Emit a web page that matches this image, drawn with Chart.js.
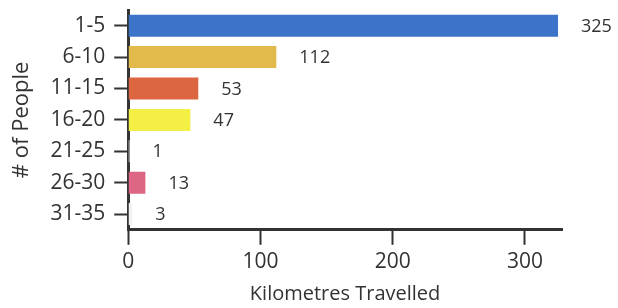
<!DOCTYPE html>
<html>
<head>
<meta charset="utf-8">
<script src="https://cdn.jsdelivr.net/npm/chart.js@4/dist/chart.umd.min.js"></script>
<style>
  html, body { margin: 0; padding: 0; background: #fff; }
  #wrap { width: 618px; height: 308px; }
</style>
</head>
<body>
<div id="wrap"><canvas id="myChart"></canvas></div>
<script>
const groups = ['1-5', '6-10', '11-15', '16-20', '21-25', '26-30', '31-35'];
const kms = [325, 112, 53, 47, 1, 13, 3];
const barColours = ['#3b74c9', '#e2ba4c', '#dc6640', '#f4ef45', '#f2f2f2', '#dc6683', '#f2f2f2'];
const xTicks = [0, 100, 200, 300];

const ink = '#333';
const fontFamily = '"Open Sans", "DejaVu Sans", sans-serif';

// scrive il valore accanto a ogni barra
const valueLabels = {
    id: 'valueLabels',
    afterDatasetsDraw(chart) {
        const ctx = chart.ctx;
        const meta = chart.getDatasetMeta(0);
        ctx.save();
        ctx.fillStyle = ink;
        ctx.font = '18px ' + fontFamily;
        ctx.textAlign = 'left';
        ctx.textBaseline = 'middle';
        meta.data.forEach((bar, i) => {
            ctx.fillText(String(kms[i]), bar.x + 23, bar.y + 1);
        });
        ctx.restore();
    }
};

const ctx = document.getElementById('myChart').getContext('2d');
new Chart(ctx, {
    type: 'bar',
    data: {
        labels: groups,
        datasets: [{
            data: kms,
            backgroundColor: barColours,
            barPercentage: 0.7,
            categoryPercentage: 1
        }]
    },
    plugins: [valueLabels],
    options: {
        indexAxis: 'y',
        responsive: true,
        maintainAspectRatio: false,
        animation: false,
        layout: { padding: { left: 9, right: 56, top: 10, bottom: 2 } },
        plugins: {
            legend: { display: false },
            tooltip: { enabled: false }
        },
        scales: {
            x: {
                min: 0,
                max: 328,
                afterBuildTicks: (scale) => {
                    scale.ticks = xTicks.map(v => ({ value: v }));
                },
                border: { display: true, color: ink, width: 3 },
                grid: {
                    drawOnChartArea: false,
                    drawTicks: true,
                    tickLength: 15,
                    tickWidth: 2,
                    tickColor: ink
                },
                ticks: {
                    color: ink,
                    padding: 5,
                    font: { family: fontFamily, size: 21 }
                },
                title: {
                    display: true,
                    text: 'Kilometres Travelled',
                    color: ink,
                    padding: { top: 2, bottom: 0 },
                    font: { family: fontFamily, size: 20 }
                }
            },
            y: {
                afterFit: (scale) => {
                    // le etichette stanno già dentro le bande
                    scale.paddingTop = 0;
                    scale.paddingBottom = 0;
                },
                border: { display: true, color: ink, width: 3 },
                grid: {
                    offset: false,
                    drawOnChartArea: false,
                    drawTicks: true,
                    tickLength: 14,
                    tickWidth: 2,
                    tickColor: ink
                },
                ticks: {
                    color: ink,
                    padding: 9,
                    font: { family: fontFamily, size: 21 }
                },
                title: {
                    display: true,
                    text: '# of People',
                    color: ink,
                    padding: { top: 0, bottom: 6 },
                    font: { family: fontFamily, size: 22 }
                }
            }
        }
    }
});
</script>
</body>
</html>
